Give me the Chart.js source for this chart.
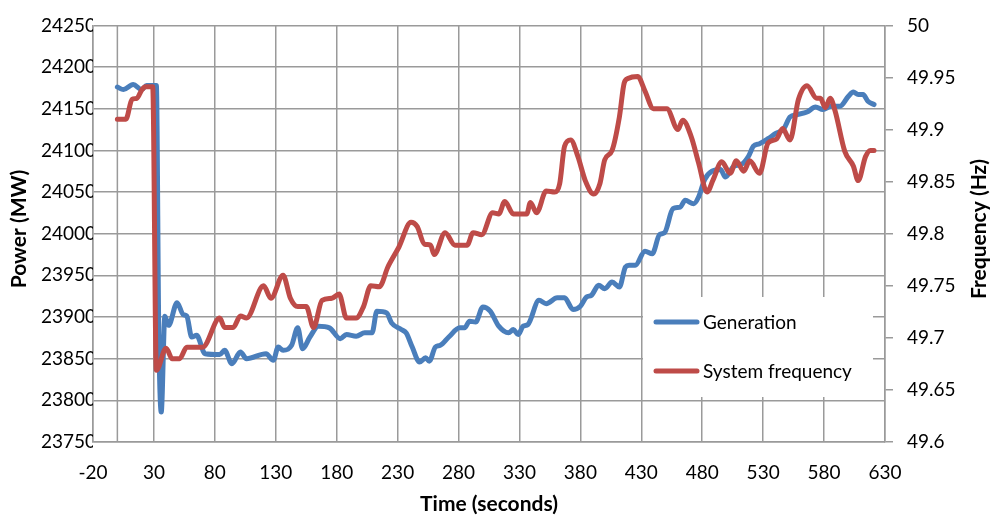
<!DOCTYPE html>
<html>
<head>
<meta charset="utf-8">
<script src="https://cdn.jsdelivr.net/npm/chart.js@4.4.1/dist/chart.umd.min.js"></script>
<style>
  html, body { margin: 0; padding: 0; background: #fff; }
  #wrap { width: 992px; height: 517px; position: relative; }
</style>
</head>
<body>
<div id="wrap"><canvas id="myChart"></canvas></div>
<script>
// Generation (MW)
const genTime = [0, 5, 13, 20, 24, 32, 34, 36, 39, 42, 49, 54, 57, 61, 65, 72, 84, 88, 94, 101, 106, 122, 128, 132, 136, 143, 148, 152, 158, 165, 174, 183, 188, 196, 203, 209, 213, 221, 225, 233, 237, 242, 248, 253, 256, 261, 265, 272, 281, 285, 289, 294, 300, 306, 313, 321, 325, 329, 333, 337, 346, 352, 361, 367, 374, 380, 385, 389, 395, 400, 406, 412, 417, 420, 425, 433, 439, 445, 449, 456, 462, 466, 473, 477, 482, 488, 495, 499, 506, 512, 518, 522, 527, 534, 540, 547, 552, 558, 566, 573, 579, 586, 593, 600, 604, 608, 612, 616, 621];
const genPower = [24176, 24173, 24179, 24173, 24178, 24178, 23880, 23786, 23901, 23890, 23917, 23903, 23901, 23876, 23878, 23856, 23855, 23860, 23844, 23858, 23850, 23856, 23848, 23864, 23860, 23866, 23887, 23862, 23876, 23889, 23887, 23874, 23879, 23877, 23881, 23881, 23907, 23905, 23893, 23885, 23881, 23864, 23846, 23851, 23847, 23864, 23866, 23876, 23887, 23887, 23895, 23894, 23912, 23907, 23889, 23881, 23885, 23879, 23889, 23891, 23920, 23916, 23923, 23923, 23909, 23913, 23924, 23926, 23938, 23934, 23942, 23936, 23960, 23962, 23962, 23979, 23976, 23999, 24001, 24030, 24032, 24040, 24036, 24044, 24065, 24075, 24077, 24068, 24081, 24083, 24093, 24105, 24108, 24114, 24120, 24126, 24140, 24143, 24146, 24152, 24149, 24153, 24153, 24165, 24170, 24167, 24167, 24159, 24155];

// System frequency (Hz)
const freqTime = [0, 7, 12, 16, 20, 23, 27, 29, 32, 40, 45, 51, 57, 70, 84, 88, 95, 101, 106, 120, 126, 136, 142, 148, 155, 161, 168, 176, 182, 188, 196, 202, 208, 215, 222, 231, 241, 246, 252, 257, 260, 269, 277, 287, 292, 299, 308, 313, 318, 325, 336, 339, 344, 352, 359, 363, 367, 372, 378, 384, 391, 396, 400, 406, 412, 416, 419, 427, 433, 440, 451, 460, 464, 471, 477, 484, 489, 496, 503, 508, 514, 519, 527, 534, 541, 546, 552, 559, 566, 574, 577, 581, 585, 589, 597, 604, 608, 614, 618, 621];
const freqValue = [49.910, 49.910, 49.929, 49.930, 49.938, 49.941, 49.941, 49.941, 49.669, 49.690, 49.680, 49.680, 49.691, 49.691, 49.719, 49.710, 49.710, 49.721, 49.719, 49.750, 49.738, 49.760, 49.738, 49.730, 49.730, 49.710, 49.736, 49.738, 49.742, 49.719, 49.719, 49.730, 49.750, 49.749, 49.768, 49.787, 49.811, 49.807, 49.790, 49.789, 49.780, 49.801, 49.789, 49.789, 49.801, 49.799, 49.820, 49.819, 49.831, 49.819, 49.819, 49.830, 49.820, 49.841, 49.840, 49.848, 49.884, 49.890, 49.874, 49.851, 49.838, 49.848, 49.871, 49.880, 49.912, 49.945, 49.949, 49.951, 49.937, 49.920, 49.920, 49.900, 49.909, 49.893, 49.868, 49.840, 49.852, 49.869, 49.858, 49.870, 49.860, 49.870, 49.858, 49.887, 49.891, 49.901, 49.890, 49.929, 49.942, 49.930, 49.930, 49.921, 49.930, 49.918, 49.879, 49.865, 49.851, 49.874, 49.880, 49.880];

const BLUE = '#4a7ebb';
const RED = '#be4b48';
const GRID = '#9a9a9a';
const FONT = 'Lato, "Liberation Sans", sans-serif';

document.addEventListener('DOMContentLoaded', function() {
    const ctx = document.getElementById('myChart').getContext('2d');

    // pionowa linia osi przy x = 0, legenda w polu wykresu, tytuly osi
    const extras = {
        id: 'extras',
        beforeDatasetsDraw(chart) {
            const c = chart.ctx;
            const a = chart.chartArea;
            const x0 = chart.scales.x.getPixelForValue(0);
            c.save();
            c.strokeStyle = GRID;
            c.lineWidth = 1.5;
            c.beginPath();
            c.moveTo(x0, a.top);
            c.lineTo(x0, a.bottom);
            c.stroke();
            c.restore();
        },
        afterDatasetsDraw(chart) {
            const c = chart.ctx;
            c.save();
            // legenda
            c.fillStyle = '#fff';
            c.fillRect(643, 297, 230, 100);
            const items = [['Generation', BLUE, 322], ['System frequency', RED, 371]];
            items.forEach(function(it) {
                c.strokeStyle = it[1];
                c.lineWidth = 5;
                c.lineCap = 'round';
                c.beginPath();
                c.moveTo(656, it[2]);
                c.lineTo(697, it[2]);
                c.stroke();
                c.fillStyle = '#000';
                c.font = '19px ' + FONT;
                c.textBaseline = 'middle';
                c.textAlign = 'left';
                c.fillText(it[0], 703, it[2] + 1);
            });
            // tytuly osi
            c.font = 'bold 21px ' + FONT;
            c.fillStyle = '#000';
            c.textAlign = 'center';
            c.textBaseline = 'middle';
            c.fillText('Time (seconds)', 489, 504);
            c.save();
            c.translate(19, 229);
            c.rotate(-Math.PI / 2);
            c.fillText('Power (MW)', 0, 0);
            c.restore();
            c.save();
            c.translate(979, 229);
            c.rotate(-Math.PI / 2);
            c.fillText('Frequency (Hz)', 0, 0);
            c.restore();
            c.restore();
        }
    };

    const data = {
        datasets: [{
            label: 'Generation',
            data: genTime.map((t, i) => ({ x: t, y: genPower[i] })),
            yAxisID: 'y',
            borderColor: BLUE,
            borderWidth: 5,
            pointRadius: 0,
            cubicInterpolationMode: 'monotone',
            borderCapStyle: 'round',
            borderJoinStyle: 'round',
            order: 1
        }, {
            label: 'System frequency',
            data: freqTime.map((t, i) => ({ x: t, y: freqValue[i] })),
            yAxisID: 'y1',
            borderColor: RED,
            borderWidth: 5,
            pointRadius: 0,
            cubicInterpolationMode: 'monotone',
            borderCapStyle: 'round',
            borderJoinStyle: 'round',
            order: 0
        }]
    };

    const options = {
        responsive: true,
        maintainAspectRatio: false,
        animation: false,
        layout: { padding: { top: 16, left: 0, right: 0, bottom: 0 } },
        plugins: {
            legend: { display: false },
            tooltip: { enabled: false }
        },
        scales: {
            x: {
                type: 'linear',
                min: -20,
                max: 630,
                ticks: { stepSize: 50, color: '#000', font: { family: FONT, size: 19 }, padding: 19, maxRotation: 0 },
                grid: { color: GRID, lineWidth: 1.5, drawTicks: false },
                border: { color: GRID, width: 1.5 },
                afterFit(scale) { scale.height = 75; }
            },
            y: {
                position: 'left',
                min: 23750,
                max: 24250,
                ticks: { stepSize: 50, color: '#000', font: { family: FONT, size: 19 }, padding: -3, callback: v => String(v) },
                grid: { color: GRID, lineWidth: 1.5, drawTicks: false },
                border: { color: GRID, width: 1.5 },
                afterFit(scale) { scale.width = 93; }
            },
            y1: {
                position: 'right',
                min: 49.6,
                max: 50,
                ticks: {
                    stepSize: 0.05,
                    color: '#000',
                    font: { family: FONT, size: 19 },
                    padding: 14,
                    callback: v => Number(v.toFixed(2)).toString()
                },
                grid: { drawOnChartArea: false, color: GRID, lineWidth: 1.5, tickLength: 8 },
                border: { color: GRID, width: 1.5 },
                afterFit(scale) { scale.width = 107; }
            }
        }
    };

    new Chart(ctx, {
        type: 'line',
        data: data,
        options: options,
        plugins: [extras]
    });
});
</script>
</body>
</html>
